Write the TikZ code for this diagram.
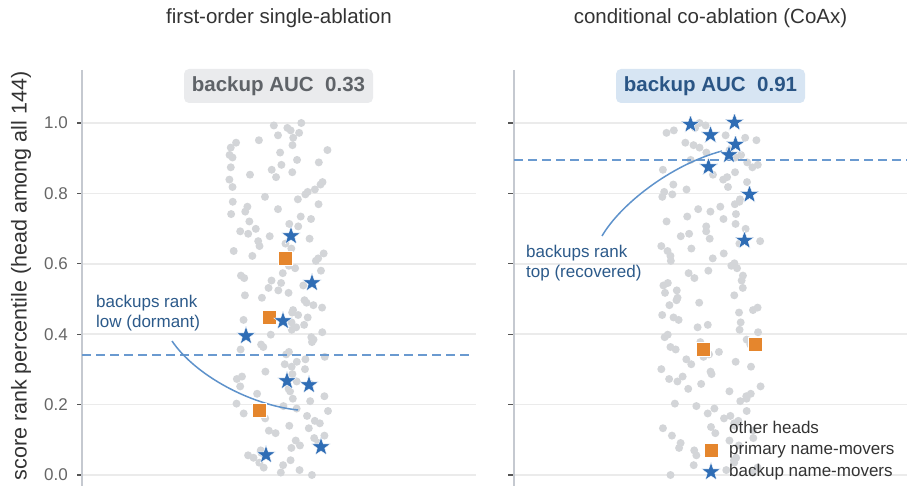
\documentclass[tikz,border=0pt]{standalone}
\usepackage{fontspec}
\setmainfont{Liberation Sans}
\usetikzlibrary{shapes.geometric}
\definecolor{gridc}{HTML}{EBEBEB}
\definecolor{axisc}{HTML}{C5C9D0}
\definecolor{tickc}{HTML}{555555}
\definecolor{ticklab}{HTML}{666666}
\definecolor{dotc}{HTML}{D3D5D8}
\definecolor{starc}{HTML}{2F6DB5}
\definecolor{sqc}{HTML}{E5862D}
\definecolor{dashc}{HTML}{6A9AD0}
\definecolor{annc}{HTML}{2C5A8A}
\definecolor{curvec}{HTML}{5E92CB}
\definecolor{badgeL}{HTML}{EAEBED}
\definecolor{badgeLt}{HTML}{5F6368}
\definecolor{badgeR}{HTML}{D7E5F3}
\definecolor{badgeRt}{HTML}{2A5585}
\definecolor{titlec}{HTML}{333333}
\newcommand\fsTitle{\fontsize{20.5}{24}\selectfont}
\newcommand\fsTick{\fontsize{17}{20}\selectfont}
\newcommand\fsAnn{\fontsize{17}{20}\selectfont}
\begin{document}
\begin{tikzpicture}[x=1pt,y=-1pt,
  gridline/.style={draw=gridc, line width=1.5pt},
  axisline/.style={draw=axisc, line width=2pt},
  tickmark/.style={draw=tickc, line width=1.3pt},
  ticklabel/.style={anchor=east, inner sep=0pt, text=ticklab, font=\fsTick},
  titletext/.style={text=titlec, font=\fsTitle, inner sep=0pt},
  badge/.style={rounded corners=5pt, minimum width=189pt, minimum height=34pt, inner sep=0pt, font=\fsTitle\bfseries},
  stardot/.style={star, star points=5, star point ratio=2.5, fill=starc, draw=white, line width=0.4pt, minimum size=19.5pt, inner sep=0pt},
  sqdot/.style={rectangle, fill=sqc, draw=white, line width=0.4pt, minimum size=14pt, inner sep=0pt},
  dashline/.style={draw=dashc, line width=1.5pt, dash pattern=on 9pt off 5pt},
  anncurve/.style={draw=curvec, line width=1.5pt},
  anntext/.style={text=annc, font=\fsAnn, align=left, inner sep=0pt, anchor=west},
  legtext/.style={text=titlec, font=\fsAnn, inner sep=0pt, anchor=west}
]
\useasboundingbox (0,0) rectangle (907,486);

% titles
\node[titletext] (titleL) at (279,18) {first-order single-ablation};
\node[titletext] (titleR) at (710.5,18) {conditional co-ablation (CoAx)};

% y label
\node[rotate=90, text=titlec, font=\fontsize{21.5}{24}\selectfont, inner sep=0pt] (ylab) at (21,276) {score rank percentile (head among all 144)};

% grid, ticks, labels
\foreach \yy/\lab [count=\i] in {475/0.0, 404.6/0.2, 334.2/0.4, 263.8/0.6, 193.4/0.8, 123/1.0}{
  \draw[gridline] (82,\yy) -- (476,\yy);
  \draw[gridline] (514,\yy) -- (907,\yy);
  \draw[tickmark] (77,\yy) -- (82,\yy);
  \draw[tickmark] (508,\yy) -- (514,\yy);
  \node[ticklabel] (tick\i) at (68,\yy) {\lab};
}

% axes
\draw[axisline] (82,70) -- (82,486);
\draw[axisline] (514,70) -- (514,486);

% badges
\node[badge, fill=badgeL, text=badgeLt] (badgeLeft) at (278.5,86) {backup AUC~~0.33};
\node[badge, fill=badgeR, text=badgeRt] (badgeRight) at (710.5,86) {backup AUC~~0.91};

% other heads (grey dots)
\pgfmathsetseed{11}
\foreach \k in {0,...,143}{
  \pgfmathsetmacro\yy{475-2.461538*\k}
  \pgfmathsetmacro\xx{279+50*rand}
  \fill[dotc] (\xx,\yy) circle (4pt);
}
\pgfmathsetseed{29}
\foreach \k in {0,...,143}{
  \pgfmathsetmacro\yy{475-2.461538*\k}
  \pgfmathsetmacro\xx{711+50*rand}
  \fill[dotc] (\xx,\yy) circle (4pt);
}

% dashed thresholds
\coordinate (dL1) at (82,355);
\coordinate (dL2) at (471,355);
\coordinate (dR1) at (514,160);
\coordinate (dR2) at (907,160);
\draw[dashline] (dL1) -- (dL2);
\draw[dashline] (dR1) -- (dR2);

% annotations
\node[anntext] (annL) at (96,313) {backups rank\\low (dormant)};
\node[anntext] (annR) at (526,263.5) {backups rank\\top (recovered)};
\coordinate (cL1) at (172,341);
\coordinate (cL2) at (298,410);
\coordinate (cR1) at (602,236);
\coordinate (cR2) at (722,151);
\draw[anncurve] (cL1) .. controls (195,375) and (250,405) .. (cL2);
\draw[anncurve] (cR1) .. controls (620,205) and (670,165) .. (cR2);

% left panel markers
\node[sqdot] (pL1) at (285,258) {};
\node[sqdot] (pL2) at (269,317) {};
\node[sqdot] (pL3) at (259,410) {};
\node[stardot] (bL1) at (291,236) {};
\node[stardot] (bL2) at (312,283) {};
\node[stardot] (bL3) at (283,321) {};
\node[stardot] (bL4) at (246,336) {};
\node[stardot] (bL5) at (287,381) {};
\node[stardot] (bL6) at (309,385) {};
\node[stardot] (bL7) at (321,447) {};
\node[stardot] (bL8) at (266,455) {};

% right panel markers
\node[sqdot] (pR1) at (703,349) {};
\node[sqdot] (pR2) at (755,344) {};
\node[stardot] (bR1) at (690.5,124.5) {};
\node[stardot] (bR2) at (710.5,135) {};
\node[stardot] (bR3) at (734.5,122.5) {};
\node[stardot] (bR4) at (735.5,144.5) {};
\node[stardot] (bR5) at (729,155) {};
\node[stardot] (bR6) at (708.5,167) {};
\node[stardot] (bR7) at (749.5,194.5) {};
\node[stardot] (bR8) at (744.5,240.5) {};

% legend
\fill[dotc] (711,427) circle (4pt);
\node[sqdot] (legSq) at (711,450) {};
\node[stardot] (legSt) at (711,472) {};
\node[legtext] (legT1) at (729,427) {other heads};
\node[legtext] (legT2) at (729,450) {primary name-movers};
\node[legtext] (legT3) at (729,472) {backup name-movers};
\end{tikzpicture}
\end{document}
